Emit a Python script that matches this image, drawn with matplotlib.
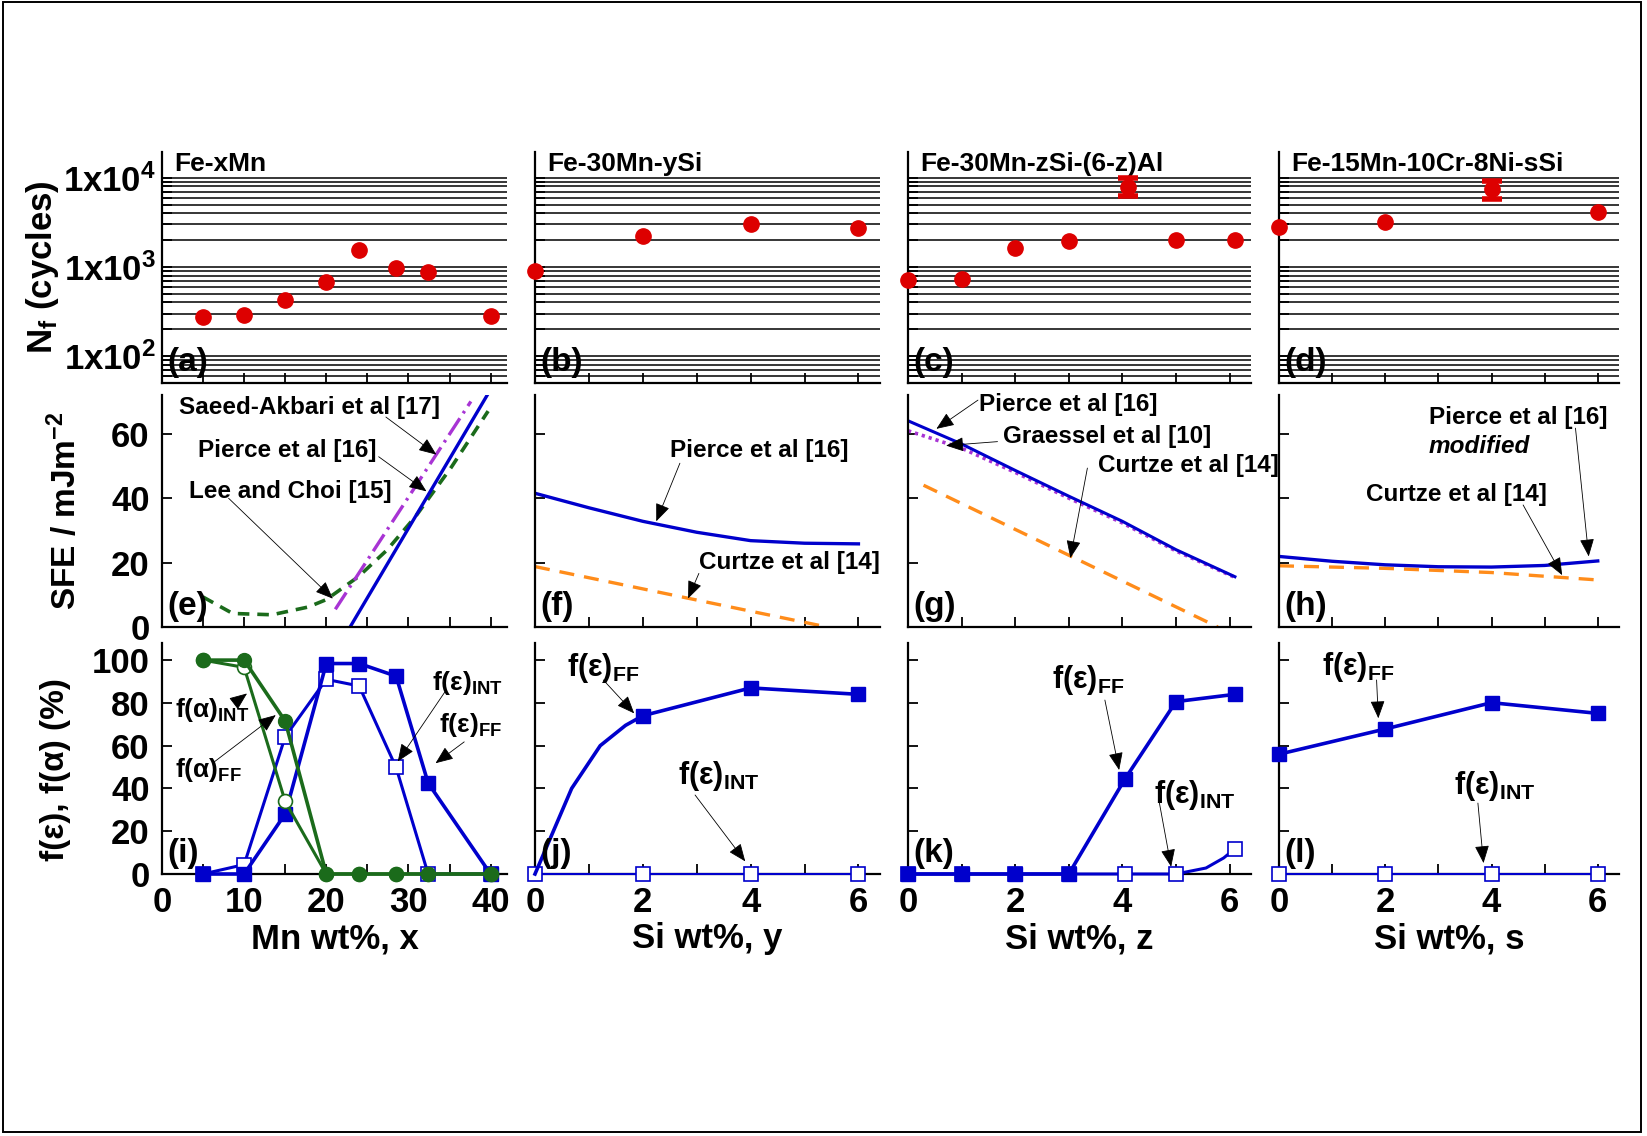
import numpy as np
import matplotlib
matplotlib.use('Agg')
import matplotlib.pyplot as plt
from matplotlib.ticker import LogLocator, MultipleLocator, NullFormatter, FuncFormatter
from matplotlib.patches import Rectangle

plt.rcParams['font.family'] = ['Liberation Sans', 'DejaVu Sans']
plt.rcParams['font.weight'] = 'bold'
plt.rcParams['axes.labelweight'] = 'bold'
plt.rcParams['mathtext.fontset'] = 'custom'
plt.rcParams['mathtext.rm'] = 'Liberation Sans:bold'
plt.rcParams['mathtext.it'] = 'Liberation Sans:bold:italic'
plt.rcParams['mathtext.bf'] = 'Liberation Sans:bold'
plt.rcParams['mathtext.default'] = 'rm'

RED = '#dd0000'
BLUE = '#0000cc'
GREEN = '#1b6b1b'
PURPLE = '#a834d4'
ORANGE = '#ff8c1a'

# ---- fatigue life N_f (top row) ----
mn_x = [5, 10, 15, 20, 24, 28.5, 32.4, 40]
nf_mn = [278, 290, 427, 681, 1570, 975, 871, 285]
si_y = [0, 2, 4, 6]
nf_si_y = [903, 2250, 3020, 2735]
si_z = [0, 1, 2, 3, 5, 6.1]
nf_si_z = [710, 725, 1650, 1950, 2030, 1990]
si_s = [0, 2, 6]
nf_si_s = [2810, 3170, 4090]
# scatter-band points: x, mean, low, high
err_z = [4.1, 7900, 6200, 10000]
err_s = [4.0, 7500, 5800, 9300]

# ---- SFE curves (middle row) ----
pierce_e_x = [22.9, 39.6]
pierce_e = [0, 72]
saeed_e_x = [21.1, 37.6]
saeed_e = [5.5, 70]
lee_e_x = [5, 8.6, 13.4, 17.8, 20, 23.9, 27.4, 30.9, 32.2, 35.2, 39.7]
lee_e = [9.3, 4.2, 3.8, 6.2, 8.5, 15.6, 23.9, 34.4, 39.0, 49.5, 67.0]

pierce_f_x = [0, 1, 2, 3, 4, 5, 6]
pierce_f = [41.5, 37.0, 32.8, 29.4, 26.8, 26.0, 25.8]
curtze_f_x = [0, 5.42]
curtze_f = [18.75, 0]

pierce_g_x = [0, 1, 2, 3, 4, 5, 6.1]
pierce_g = [64.0, 56.8, 48.6, 40.6, 32.8, 24.0, 15.6]
graessel_g = [60.9, 55.5, 48.0, 40.0, 32.3, 23.6, 15.4]
curtze_g_x = [0.29, 5.78]
curtze_g = [44.0, 0]

pierce_h_x = [0, 1, 2, 3, 4, 5, 6]
pierce_h = [21.9, 20.4, 19.3, 18.7, 18.6, 19.1, 20.5]
curtze_h_x = [0, 2, 4, 6]
curtze_h = [19.0, 18.2, 16.9, 14.6]

# ---- phase fractions (bottom row) ----
eps_ff_mn = [0, 0, 28.1, 98.4, 98.4, 92.5, 42.5, 0]
eps_int_mn = [0, 4.4, 64.2, 91.0, 87.9, 49.8, 0, 0]
alpha_ff_mn = [100, 100, 71.5, 0, 0, 0, 0, 0]
alpha_int_mn = [100, 96.6, 33.9, 0, 0, 0, 0, 0]

eps_ff_y = [0, 74, 87, 84]
eps_int_y = [0, 0, 0, 0]
curve_j_x = [0, 0.34, 0.68, 1.21, 1.68, 2]
curve_j = [0, 20, 40, 60, 69.5, 74]

si_k = [0, 1, 2, 3, 4.05, 5, 6.1]
eps_ff_z = [0, 0, 0, 0, 44.5, 80.6, 84.0]
eps_int_z = [0, 0, 0, 0, 0, 0, 11.8]
curve_k_x = [5.15, 5.56, 5.89, 6.1]
curve_k = [0, 2.8, 7.5, 11.8]

si_l = [0, 2, 4, 6]
eps_ff_s = [56.0, 67.8, 80.1, 75.1]
eps_int_s = [0, 0, 0, 0]

titles = ['Fe-xMn', 'Fe-30Mn-ySi', 'Fe-30Mn-zSi-(6-z)Al', 'Fe-15Mn-10Cr-8Ni-sSi']
xlabels = ['Mn wt%, x', 'Si wt%, y', 'Si wt%, z', 'Si wt%, s']
letters = ['(a)', '(b)', '(c)', '(d)', '(e)', '(f)', '(g)', '(h)', '(i)', '(j)', '(k)', '(l)']

W, H = 1647.0, 1136.0
fig = plt.figure(figsize=(W / 100, H / 100), dpi=100)
fig.patches.append(Rectangle((0.0018, 0.0035), 0.9946, 0.9945, transform=fig.transFigure,
                             fill=False, ec='k', lw=1.4))

col_left = [162, 535, 908, 1279]
col_width = [345, 345, 343, 340]
row_top = [152, 395, 643]
row_height = [231, 232, 231]

axes = []
for r in range(3):
    row = []
    for c in range(4):
        ax = fig.add_axes([col_left[c] / W, 1 - (row_top[r] + row_height[r]) / H,
                           col_width[c] / W, row_height[r] / H])
        for s in ['top', 'right']:
            ax.spines[s].set_visible(False)
        for s in ['left', 'bottom']:
            ax.spines[s].set_linewidth(1.6)
        ax.tick_params(which='both', direction='in', length=7, width=1.3, labelsize=25, pad=9)
        if c == 0:
            ax.set_xlim(0, 42)
            ax.xaxis.set_major_locator(MultipleLocator(10))
            ax.xaxis.set_minor_locator(MultipleLocator(5))
        else:
            ax.set_xlim(0, 6.4)
            ax.xaxis.set_major_locator(MultipleLocator(2))
            ax.xaxis.set_minor_locator(MultipleLocator(1))
        if r < 2:
            ax.tick_params(labelbottom=False)
        if c > 0:
            ax.tick_params(labelleft=False)
        ax.text(0.017, 0.02, letters[r * 4 + c], transform=ax.transAxes, fontsize=24,
                ha='left', va='bottom', zorder=10)
        row.append(ax)
    axes.append(row)

# top row: log scale with full grid
for c, ax in enumerate(axes[0]):
    ax.set_yscale('log')
    ax.set_ylim(50, 19500)
    ax.yaxis.set_major_locator(LogLocator(base=10))
    ax.yaxis.set_minor_locator(LogLocator(base=10, subs=np.arange(2, 10)))
    ax.yaxis.set_minor_formatter(NullFormatter())
    ax.yaxis.set_major_formatter(FuncFormatter(lambda v, p: '1x10$^{%d}$' % round(np.log10(v))))
    ax.grid(True, axis='y', which='both', color='k', lw=1.1)
    ax.tick_params(axis='y', pad=4)
    ax.text(0.035, 1.0, titles[c], transform=ax.transAxes, fontsize=19, ha='left', va='top')

mk = dict(color=RED, ms=11, ls='none', marker='o', clip_on=False, zorder=5)
axes[0][0].plot(mn_x, nf_mn, **mk)
axes[0][1].plot(si_y, nf_si_y, **mk)
axes[0][2].plot(si_z, nf_si_z, **mk)
axes[0][3].plot(si_s, nf_si_s, **mk)
for ax, e in [(axes[0][2], err_z), (axes[0][3], err_s)]:
    ax.errorbar([e[0]], [e[1]], yerr=[[e[1] - e[2]], [e[3] - e[1]]], fmt='o', color=RED,
                ms=11, capsize=7.5, capthick=4, elinewidth=5, zorder=5)
axes[0][0].set_ylabel('N$_f$ (cycles)', fontsize=25, va='center')
axes[0][0].yaxis.set_label_coords(-0.345, 0.5)

# middle row: SFE
for ax in axes[1]:
    ax.set_ylim(0, 72)
    ax.yaxis.set_major_locator(MultipleLocator(20))
axes[1][0].set_ylabel('SFE / mJm$^{-2}$', fontsize=24, va='center')
axes[1][0].yaxis.set_label_coords(-0.28, 0.5)

ax = axes[1][0]
ax.plot(lee_e_x, lee_e, color=GREEN, lw=2.6, dashes=(3.2, 2.2))
ax.plot(saeed_e_x, saeed_e, color=PURPLE, lw=2.4, dashes=(6, 1.8, 0.8, 1.8))
ax.plot(pierce_e_x, pierce_e, color=BLUE, lw=2.4)

ax = axes[1][1]
ax.plot(pierce_f_x, pierce_f, color=BLUE, lw=2.4)
ax.plot(curtze_f_x, curtze_f, color=ORANGE, lw=2.4, dashes=(4.5, 3))

ax = axes[1][2]
ax.plot(pierce_g_x, graessel_g, color=PURPLE, lw=2.6, dashes=(0.9, 1.1))
ax.plot(pierce_g_x, pierce_g, color=BLUE, lw=2.2)
ax.plot(curtze_g_x, curtze_g, color=ORANGE, lw=2.4, dashes=(4.5, 3))

ax = axes[1][3]
ax.plot(curtze_h_x, curtze_h, color=ORANGE, lw=2.4, dashes=(4.5, 3))
ax.plot(pierce_h_x, pierce_h, color=BLUE, lw=2.4)


def note(ax, text, txy, start, tip, size, **kw):
    ax.text(txy[0], txy[1], text, transform=ax.transAxes, fontsize=size,
            ha='left', va='center', zorder=8, **kw)
    ax.annotate('', xy=tip, xycoords='data', xytext=start, textcoords='axes fraction',
                arrowprops=dict(arrowstyle='-|>,head_length=1.1,head_width=0.45',
                                color='k', lw=0.6, shrinkA=0, shrinkB=0), zorder=9)


fs = 17.5
note(axes[1][0], 'Saeed-Akbari et al [17]', (0.048, 0.944), (0.649, 0.905), (33.4, 53.5), fs)
note(axes[1][0], 'Pierce et al [16]', (0.104, 0.759), (0.628, 0.734), (32.2, 42.1), fs)
note(axes[1][0], 'Lee and Choi [15]', (0.078, 0.586), (0.193, 0.555), (20.8, 8.8), fs)
note(axes[1][1], 'Pierce et al [16]', (0.391, 0.759), (0.42, 0.706), (2.25, 32.8), fs)
note(axes[1][1], 'Curtze et al [14]', (0.475, 0.276), (0.475, 0.231), (2.84, 8.85), fs)
note(axes[1][2], 'Pierce et al [16]', (0.207, 0.957), (0.204, 0.978), (0.53, 61.5), fs)
note(axes[1][2], 'Graessel et al [10]', (0.277, 0.821), (0.261, 0.799), (0.71, 56.3), fs)
note(axes[1][2], 'Curtze et al [14]', (0.554, 0.694), (0.523, 0.685), (3.03, 21.4), fs)
note(axes[1][3], 'Pierce et al [16]', (0.441, 0.901), (0.872, 0.857), (5.83, 21.9), fs)
axes[1][3].text(0.441, 0.776, 'modified', transform=axes[1][3].transAxes, fontsize=fs,
                style='italic', ha='left', va='center')
note(axes[1][3], 'Curtze et al [14]', (0.256, 0.573), (0.718, 0.526), (5.33, 16.1), fs)

# bottom row: phase fractions
for c, ax in enumerate(axes[2]):
    ax.set_ylim(0, 108)
    ax.yaxis.set_major_locator(MultipleLocator(20))
    ax.set_xlabel(xlabels[c], fontsize=25, labelpad=2)
axes[2][0].set_ylabel('f(ε), f(α) (%)', fontsize=24, va='center')
axes[2][0].yaxis.set_label_coords(-0.31, 0.45)

sq_f = dict(marker='s', ms=10, color=BLUE, mfc=BLUE, mec=BLUE, clip_on=False)
sq_o = dict(marker='s', ms=10, color=BLUE, mfc='white', mec=BLUE, mew=1.2, clip_on=False)
ci_f = dict(marker='o', ms=10, color=GREEN, mfc=GREEN, mec=GREEN, clip_on=False)
ci_o = dict(marker='o', ms=10, color=GREEN, mfc='white', mec=GREEN, mew=1.2, clip_on=False)

ax = axes[2][0]
ax.plot(mn_x, eps_int_mn, lw=2.2, zorder=4, **sq_o)
ax.plot(mn_x, eps_ff_mn, lw=2.6, zorder=5, **sq_f)
ax.plot(mn_x, alpha_int_mn, lw=2.2, zorder=6, **ci_o)
ax.plot(mn_x, alpha_ff_mn, lw=2.6, zorder=7, **ci_f)

ax = axes[2][1]
ax.plot(si_y, eps_int_y, lw=1.5, zorder=4, **sq_o)
ax.plot(curve_j_x + si_y[2:], curve_j + eps_ff_y[2:], color=BLUE, lw=2.6, zorder=5,
        clip_on=False, solid_joinstyle='round')
ax.plot(si_y[1:], eps_ff_y[1:], ls='none', zorder=5, **sq_f)

ax = axes[2][2]
ax.plot(si_k[:-1] + curve_k_x[1:], eps_int_z[:-1] + curve_k[1:], color=BLUE, lw=2.2, zorder=4,
        clip_on=False, solid_joinstyle='round')
ax.plot(si_k, eps_int_z, ls='none', zorder=4, **sq_o)
ax.plot(si_k, eps_ff_z, lw=2.6, zorder=5, **sq_f)

ax = axes[2][3]
ax.plot(si_l, eps_int_s, lw=1.5, zorder=4, **sq_o)
ax.plot(si_l, eps_ff_s, lw=2.6, zorder=5, **sq_f)

fb, fs2 = 19, 22
note(axes[2][0], 'f(α)$_{INT}$', (0.038, 0.71), (0.21, 0.74), (10.35, 84.4), fb)
note(axes[2][0], 'f(α)$_{FF}$', (0.038, 0.45), (0.152, 0.486), (13.85, 74.3), fb)
note(axes[2][0], 'f(ε)$_{INT}$', (0.783, 0.827), (0.824, 0.797), (28.7, 52.6), fb)
note(axes[2][0], 'f(ε)$_{FF}$', (0.803, 0.645), (0.876, 0.572), (33.3, 51.8), fb)
note(axes[2][1], 'f(ε)$_{FF}$', (0.093, 0.892), (0.198, 0.84), (1.84, 75.1), fs2)
note(axes[2][1], 'f(ε)$_{INT}$', (0.415, 0.424), (0.464, 0.342), (3.9, 5.9), fs2)
note(axes[2][2], 'f(ε)$_{FF}$', (0.42, 0.84), (0.574, 0.753), (3.94, 48.6), fs2)
note(axes[2][2], 'f(ε)$_{INT}$', (0.717, 0.342), (0.733, 0.307), (4.91, 3.4), fs2)
note(axes[2][3], 'f(ε)$_{FF}$', (0.126, 0.896), (0.287, 0.84), (1.87, 72.8), fs2)
note(axes[2][3], 'f(ε)$_{INT}$', (0.515, 0.381), (0.585, 0.307), (3.85, 5.1), fs2)

fig.savefig('out.png', dpi=100)
